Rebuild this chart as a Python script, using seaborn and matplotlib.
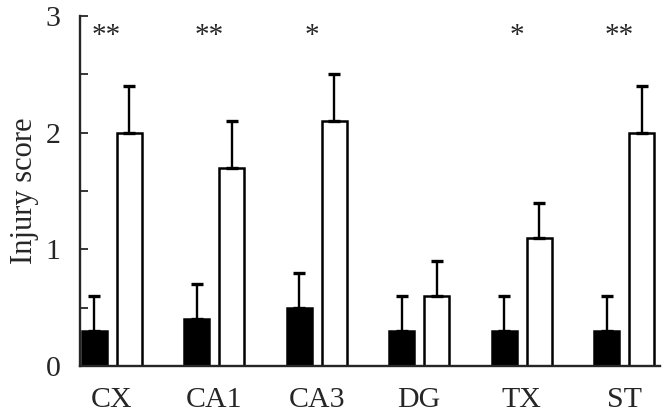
import numpy as np
import pandas as pd
import matplotlib.pyplot as plt
import seaborn as sns
from matplotlib.ticker import MultipleLocator

regions = ['CX', 'CA1', 'CA3', 'DG', 'TX', 'ST']
control_mean = [0.3, 0.4, 0.5, 0.3, 0.3, 0.3]
control_err = [0.3, 0.3, 0.3, 0.3, 0.3, 0.3]
treated_mean = [2.0, 1.7, 2.1, 0.6, 1.1, 2.0]
treated_err = [0.4, 0.4, 0.4, 0.3, 0.3, 0.4]
stars = ['**', '**', '*', '', '*', '**']

df = pd.DataFrame({
    'Region': regions * 2,
    'Group': ['Control'] * 6 + ['Treated'] * 6,
    'Score': control_mean + treated_mean,
    'Err': control_err + treated_err,
})

sns.set_style('ticks')
plt.rcParams['font.family'] = ['Liberation Serif', 'DejaVu Serif']

fig = plt.figure(figsize=(6.66, 4.13), dpi=100)
ax = fig.add_axes([0.120, 0.114, 0.871, 0.847])

sns.barplot(data=df, x='Region', y='Score', hue='Group', order=regions,
            hue_order=['Control', 'Treated'], palette=['black', 'white'],
            saturation=1, width=0.68, gap=0.28, edgecolor='black',
            linewidth=1.8, errorbar=None, legend=False, ax=ax)

# upward-only error bars on top of each bar
bars = [p for p in ax.patches]
errs = control_err + treated_err
for p, e in zip(bars, errs):
    xc = p.get_x() + p.get_width() / 2
    h = p.get_height()
    ax.errorbar(xc, h, yerr=[[0], [e]], fmt='none', ecolor='black',
                elinewidth=1.7, capsize=4, capthick=2.4, zorder=1)

for i, s in enumerate(stars):
    if s:
        ax.text(i - 0.05, 2.83, s, ha='center', va='center', fontsize=21)

ax.set_xlim(-0.31, 5.35)
ax.set_ylim(0, 3)
ax.yaxis.set_major_locator(MultipleLocator(1))
ax.yaxis.set_minor_locator(MultipleLocator(0.5))
ax.tick_params(axis='y', which='both', direction='in', length=6, width=1.3,
               labelsize=21.5, pad=14)
ax.tick_params(axis='x', length=0, labelsize=21.5, pad=15)
ax.set_xlabel('')
ax.set_ylabel('Injury score', fontsize=22, labelpad=5)
for side in ['top', 'right']:
    ax.spines[side].set_visible(False)
for side in ['left', 'bottom']:
    ax.spines[side].set_linewidth(1.7)

fig.savefig('out.png', dpi=100)
